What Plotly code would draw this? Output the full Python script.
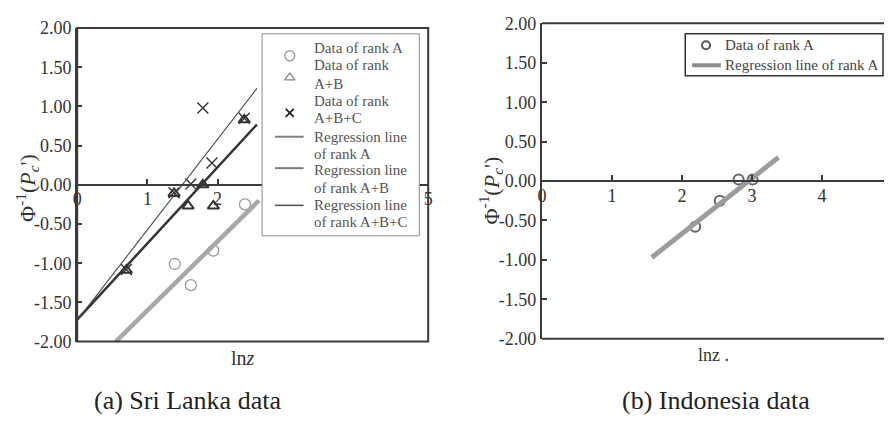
import plotly.graph_objects as go

# ---- Sri Lanka data (panel a) ----
sl_a_x = [1.39, 1.62, 1.94, 2.39]
sl_a_y = [-1.01, -1.28, -0.84, -0.25]
sl_ab_x = [0.70, 1.38, 1.58, 1.79, 1.94, 2.38]
sl_ab_y = [-1.09, -0.11, -0.27, 0.00, -0.27, 0.83]
sl_abc_x = [0.70, 1.38, 1.62, 1.79, 1.92, 2.38]
sl_abc_y = [-1.08, -0.10, 0.01, 0.98, 0.28, 0.85]

# regression line end points
sl_reg_a_x = [0.55, 2.59]
sl_reg_a_y = [-2.00, -0.20]
sl_reg_ab_x = [0.00, 2.56]
sl_reg_ab_y = [-1.72, 0.77]
sl_reg_abc_x = [0.00, 2.56]
sl_reg_abc_y = [-1.73, 1.23]

# ---- Indonesia data (panel b) ----
id_a_x = [2.19, 2.54, 2.81, 3.01]
id_a_y = [-0.58, -0.25, 0.02, 0.02]
id_reg_a_x = [1.57, 3.38]
id_reg_a_y = [-0.97, 0.30]

# ---- axis ticks ----
y_tickvals = [2.0, 1.5, 1.0, 0.5, 0.0, -0.5, -1.0, -1.5, -2.0]
y_ticktext = ["2.00", "1.50", "1.00", "0.50", "0.00", "-0.50", "-1.00", "-1.50", "-2.00"]
x_tickvals = [0, 1, 2, 3, 4, 5]
xa_ticktext = ["0", "1", "2", "", "", "5"]   # 3 and 4 sit under the key box
xb_ticktext = ["0", "1", "2", "3", "4", "5"]

# ---- legend texts ----
legend_a_lines = ["Data of rank A", "Data of rank", "A+B", "Data of rank", "A+B+C",
                  "Regression line", "of rank A", "Regression line", "of rank A+B",
                  "Regression line", "of rank A+B+C"]
legend_b_lines = ["Data of rank A", "Regression line of rank A"]

FONT = "Liberation Serif"
AXC = "#3a3a3a"
W, H = 889, 424

def px_x(p):
    return p / W

def px_y(p):
    return 1 - p / H

# panel domains (paper fractions)
xa_dom = [px_x(73), px_x(428)]
ya_dom = [px_y(348), px_y(19)]
xb_dom = [px_x(543), 1.0]
yb_dom = [px_y(345), px_y(14)]

fig = go.Figure()

# ---- panel a ----
fig.add_trace(go.Scatter(x=sl_a_x, y=sl_a_y, mode="markers", name="Data of rank A",
                         marker=dict(symbol="circle-open", size=11, color="#9a9a9a",
                                     line=dict(width=1.3, color="#9a9a9a")),
                         xaxis="x", yaxis="y"))
fig.add_trace(go.Scatter(x=sl_ab_x, y=sl_ab_y, mode="markers", name="Data of rank A+B",
                         marker=dict(symbol="triangle-up-open", size=10, color="#333333",
                                     line=dict(width=2, color="#333333")),
                         xaxis="x", yaxis="y"))
fig.add_trace(go.Scatter(x=sl_abc_x, y=sl_abc_y, mode="markers", name="Data of rank A+B+C",
                         marker=dict(symbol="x-thin-open", size=11, color="#333333",
                                     line=dict(width=1.4, color="#333333")),
                         xaxis="x", yaxis="y"))
fig.add_trace(go.Scatter(x=sl_reg_a_x, y=sl_reg_a_y, mode="lines", name="Regression line of rank A",
                         line=dict(color="#a8a8a8", width=4.5), xaxis="x", yaxis="y"))
fig.add_trace(go.Scatter(x=sl_reg_ab_x, y=sl_reg_ab_y, mode="lines", name="Regression line of rank A+B",
                         line=dict(color="#333333", width=2.5), xaxis="x", yaxis="y"))
fig.add_trace(go.Scatter(x=sl_reg_abc_x, y=sl_reg_abc_y, mode="lines", name="Regression line of rank A+B+C",
                         line=dict(color="#444444", width=1.1), xaxis="x", yaxis="y"))

# ---- panel b ----
fig.add_trace(go.Scatter(x=id_a_x, y=id_a_y, mode="markers", name="Data of rank A",
                         marker=dict(symbol="circle-open", size=10, color="#666666",
                                     line=dict(width=2, color="#666666")),
                         xaxis="x2", yaxis="y2"))
fig.add_trace(go.Scatter(x=id_reg_a_x, y=id_reg_a_y, mode="lines", name="Regression line of rank A",
                         line=dict(color="#9c9c9c", width=5), xaxis="x2", yaxis="y2"))

# ---- key boxes: drawn on a pixel-space overlay subplot (x3/y3) ----
def key_marker(x, y, symbol, size, color, lw):
    fig.add_trace(go.Scatter(x=[x], y=[y], mode="markers", hoverinfo="skip",
                             marker=dict(symbol=symbol, size=size, color=color,
                                         line=dict(width=lw, color=color)),
                             xaxis="x3", yaxis="y3"))

def key_line(x0, x1, y, color, width):
    fig.add_trace(go.Scatter(x=[x0, x1], y=[y, y], mode="lines", hoverinfo="skip",
                             line=dict(color=color, width=width), xaxis="x3", yaxis="y3"))

# left key box
fig.add_shape(type="rect", xref="x3", yref="y3", x0=260, x1=419, y0=25, y1=237,
              fillcolor="white", line=dict(color="#8a8a8a", width=1), layer="below")
key_marker(288, 48, "circle-open", 10, "#9a9a9a", 1.3)
key_marker(288, 71, "triangle-up-open", 9, "#8a8a8a", 1.3)
key_marker(288, 108, "x-thin-open", 8, "#222222", 1.8)
key_line(273, 302, 133, "#808080", 2)
key_line(273, 302, 166, "#7a7a7a", 2)
key_line(273, 302, 205, "#5a5a5a", 1.6)
legend_a_y = [40, 58, 78, 96, 113, 133, 151, 168, 187, 205, 223]
for txt, yy in zip(legend_a_lines, legend_a_y):
    fig.add_annotation(text=txt, xref="x3", yref="y3", x=310, y=yy, xanchor="left",
                       yanchor="middle", showarrow=False,
                       font=dict(family=FONT, size=15, color="#555555"))

# right key box
fig.add_shape(type="rect", xref="x3", yref="y3", x0=688, x1=888, y0=25, y1=69,
              fillcolor="white", line=dict(color="#333333", width=1.5), layer="below")
key_marker(709, 37, "circle-open", 8, "#555555", 2)
key_line(695, 724, 58, "#8c8c8c", 4)
for txt, yy in zip(legend_b_lines, [37, 58]):
    fig.add_annotation(text=txt, xref="x3", yref="y3", x=726, y=yy, xanchor="left",
                       yanchor="middle", showarrow=False,
                       font=dict(family=FONT, size=15, color="#444444"))

tickfont = dict(family=FONT, size=18, color="#333333")

def yaxis_cfg(dom, anchor):
    return dict(domain=dom, anchor=anchor, range=[-2, 2], showgrid=False, zeroline=False,
                showline=True, linecolor=AXC, linewidth=2, ticks="inside", ticklen=5,
                tickwidth=2, tickcolor=AXC, tickvals=y_tickvals, ticktext=y_ticktext,
                tickfont=tickfont, ticklabelstandoff=0)

def xaxis_cfg(dom, rng, ypos, labels):
    return dict(domain=dom, anchor="free", position=ypos, range=rng, showgrid=False,
                zeroline=False, showline=True, linecolor=AXC, linewidth=2, ticks="inside",
                ticklen=5, tickwidth=2, tickcolor=AXC, tickvals=x_tickvals,
                ticktext=labels, tickfont=tickfont, ticklabelstandoff=-2)

fig.update_layout(
    width=W, height=H, margin=dict(l=0, r=0, t=0, b=0),
    paper_bgcolor="white", plot_bgcolor="rgba(0,0,0,0)",
    font=dict(family=FONT, color="#333333"),
    showlegend=False,
    xaxis=xaxis_cfg(xa_dom, [0, 5], (ya_dom[0] + ya_dom[1]) / 2, xa_ticktext),
    yaxis=yaxis_cfg(ya_dom, "x"),
    xaxis2=xaxis_cfg(xb_dom, [0, (889 - 543) / 70.8], (yb_dom[0] + yb_dom[1]) / 2, xb_ticktext),
    yaxis2=yaxis_cfg(yb_dom, "x2"),
    xaxis3=dict(domain=[0, 1], anchor="y3", range=[0, W], visible=False, fixedrange=True),
    yaxis3=dict(domain=[0, 1], anchor="x3", range=[H, 0], visible=False, fixedrange=True),
)

# frames
fig.add_shape(type="rect", xref="x domain", yref="y domain", x0=0, x1=1, y0=0, y1=1,
              line=dict(color=AXC, width=2))
for yy in (0, 1):
    fig.add_shape(type="line", xref="x2 domain", yref="y2 domain", x0=0, x1=1, y0=yy, y1=yy,
                  line=dict(color=AXC, width=2))

# axis titles and captions
ytitle = "Φ<sup>-1</sup>(<i>P<sub>c</sub></i>')"
ytitle_font = dict(family=FONT, size=22, color="#333333")
fig.add_annotation(text=ytitle, xref="paper", yref="paper", x=px_x(22), y=px_y(187),
                   xanchor="center", yanchor="middle", textangle=-90, showarrow=False, font=ytitle_font)
fig.add_annotation(text=ytitle, xref="paper", yref="paper", x=px_x(491), y=px_y(189),
                   xanchor="center", yanchor="middle", textangle=-90, showarrow=False, font=ytitle_font)
fig.add_annotation(text="ln<i>z</i>", xref="paper", yref="paper", x=px_x(241), y=px_y(365),
                   xanchor="center", yanchor="middle", showarrow=False,
                   font=dict(family=FONT, size=20, color="#333333"))
fig.add_annotation(text="lnz .", xref="paper", yref="paper", x=px_x(717), y=px_y(362),
                   xanchor="center", yanchor="middle", showarrow=False,
                   font=dict(family=FONT, size=18, color="#333333"))
cap_font = dict(family=FONT, size=26, color="#222222")
fig.add_annotation(text="(a) Sri Lanka data", xref="paper", yref="paper", x=px_x(185), y=px_y(410),
                   xanchor="center", yanchor="middle", showarrow=False, font=cap_font)
fig.add_annotation(text="(b) Indonesia data", xref="paper", yref="paper", x=px_x(719), y=px_y(410),
                   xanchor="center", yanchor="middle", showarrow=False, font=cap_font)

fig.write_html("out.html")
